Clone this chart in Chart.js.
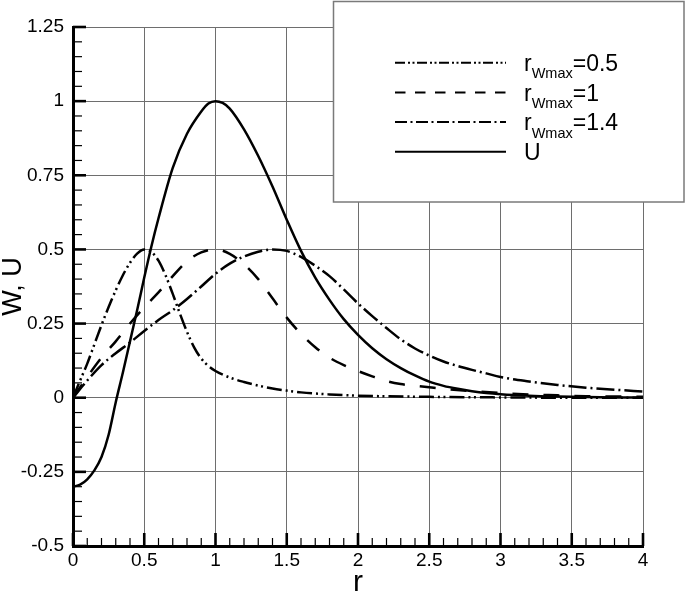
<!DOCTYPE html>
<html><head><meta charset="utf-8">
<script src="https://cdn.jsdelivr.net/npm/chart.js@4/dist/chart.umd.min.js"></script>
<style>html,body{margin:0;padding:0;background:#fff;}#wrap{width:685px;height:598px;position:relative;}</style>
</head><body><div id="wrap"><canvas id="c" width="685" height="598" style="width:685px;height:598px"></canvas></div>
<script>
// ---- data ----
const xTicks = [0, 0.5, 1, 1.5, 2, 2.5, 3, 3.5, 4];
const yTicks = [-0.5, -0.25, 0, 0.25, 0.5, 0.75, 1, 1.25];
const xTitle = 'r';
const yTitle = 'W, U';

const legendBase = ['r', 'r', 'r', 'U'];
const legendSub  = ['Wmax', 'Wmax', 'Wmax', ''];
const legendTail = ['=0.5', '=1', '=1.4', ''];

const rW05 = [0,0.05,0.1,0.15,0.2,0.25,0.3,0.35,0.4,0.45,0.5,0.55,0.6,0.65,0.7,0.75,0.8,0.85,0.9,0.95,1.0,1.1,1.2,1.3,1.4,1.5,1.6,1.8,2.0,2.5,3.0,3.5,4.0];
const W05  = [0,0.058,0.115,0.18,0.245,0.306,0.362,0.413,0.455,0.486,0.5,0.492,0.462,0.412,0.35,0.284,0.222,0.17,0.132,0.107,0.09,0.068,0.053,0.041,0.031,0.024,0.018,0.011,0.007,0.003,0.001,0,0];

const rW1 = [0,0.1,0.2,0.3,0.4,0.5,0.6,0.7,0.8,0.9,1.0,1.1,1.2,1.3,1.4,1.5,1.6,1.7,1.8,1.9,2.0,2.1,2.2,2.3,2.4,2.5,2.6,2.8,3.0,3.2,3.4,3.6,3.8,4.0];
const W1  = [0,0.07,0.135,0.19,0.25,0.305,0.355,0.41,0.46,0.49,0.5,0.485,0.45,0.40,0.335,0.27,0.215,0.17,0.135,0.11,0.09,0.072,0.056,0.046,0.04,0.035,0.03,0.022,0.016,0.011,0.008,0.005,0.004,0.003];

const rW14 = [0,0.1,0.2,0.3,0.4,0.5,0.6,0.7,0.8,0.9,1.0,1.1,1.2,1.3,1.4,1.5,1.6,1.7,1.8,1.9,2.0,2.1,2.2,2.3,2.4,2.5,2.6,2.7,2.8,2.9,3.0,3.2,3.4,3.6,3.8,4.0];
const W14  = [0,0.058,0.11,0.15,0.186,0.225,0.262,0.295,0.333,0.375,0.418,0.452,0.476,0.492,0.5,0.495,0.475,0.445,0.41,0.365,0.318,0.275,0.235,0.197,0.166,0.142,0.122,0.107,0.094,0.082,0.07,0.055,0.043,0.034,0.027,0.021];

const rU = [0,0.05,0.1,0.15,0.2,0.25,0.3,0.35,0.4,0.45,0.5,0.55,0.6,0.7,0.8,0.9,0.95,1.0,1.05,1.1,1.2,1.3,1.4,1.5,1.6,1.7,1.8,1.9,2.0,2.1,2.2,2.3,2.4,2.5,2.6,2.7,2.8,2.9,3.0,3.2,3.4,3.6,3.8,4.0];
const U  = [-0.30,-0.293,-0.275,-0.245,-0.20,-0.125,-0.015,0.085,0.19,0.295,0.405,0.51,0.605,0.775,0.89,0.965,0.992,1.0,0.994,0.975,0.905,0.815,0.712,0.60,0.495,0.405,0.33,0.265,0.212,0.167,0.13,0.10,0.075,0.054,0.04,0.03,0.022,0.016,0.012,0.007,0.004,0.002,0.001,0.0005];

// ---- styles ----
const FONT = "'Liberation Sans', Arial, Helvetica, sans-serif";
Chart.defaults.font.family = FONT;
Chart.defaults.color = '#000';

const plotDash   = [[15,4,2,3.5,2,4],[16,15],[18,4,2,4],[]];
const legendDash = [[10,3,2,2.5,2,2.5],[10.5,9.5],[12,3.5,2,3.5],[]];

function pts(xs, ys){ return xs.map((x,i)=>({x:x, y:ys[i]})); }
const seriesData = [pts(rW05,W05), pts(rW1,W1), pts(rW14,W14), pts(rU,U)];
const seriesLabels = legendBase.map((b,i)=> b + legendSub[i] + legendTail[i]);

const datasets = seriesData.map((d,i)=>({
  label: seriesLabels[i],
  data: d,
  borderColor: '#000',
  borderWidth: 2.5,
  borderDash: plotDash[i],
  borderCapStyle: 'butt',
  pointRadius: 0,
  fill: false,
  cubicInterpolationMode: 'monotone'
}));

function fmt(v){ return String(+Number(v).toFixed(2)); }

const innerTicks = {
  id: 'innerTicks',
  afterDatasetsDraw(chart){
    const {ctx, chartArea:a, scales:{x,y}} = chart;
    ctx.save();
    ctx.strokeStyle = '#000';
    const nx = (xTicks.length-1)*5;
    const dx = (xTicks[xTicks.length-1]-xTicks[0])/nx;
    for(let i=0;i<=nx;i++){
      const major = i%5===0;
      const px = x.getPixelForValue(xTicks[0]+i*dx);
      ctx.lineWidth = major?2.6:1.2;
      ctx.beginPath(); ctx.moveTo(px, a.bottom); ctx.lineTo(px, a.bottom-(major?13:8)); ctx.stroke();
    }
    const ny = (yTicks.length-1)*5;
    const dy = (yTicks[yTicks.length-1]-yTicks[0])/ny;
    for(let i=0;i<=ny;i++){
      const major = i%5===0;
      const py = y.getPixelForValue(yTicks[0]+i*dy);
      ctx.lineWidth = major?2.6:1.2;
      ctx.beginPath(); ctx.moveTo(a.left, py); ctx.lineTo(a.left+(major?13:9), py); ctx.stroke();
    }
    ctx.restore();
  }
};

const boxLegend = {
  id: 'boxLegend',
  afterDraw(chart){
    const ctx = chart.ctx;
    ctx.save();
    ctx.fillStyle = '#fff';
    ctx.fillRect(333.5, 1.5, 350.5, 200.5);
    ctx.strokeStyle = '#7a7a7a';
    ctx.lineWidth = 1.5;
    ctx.strokeRect(333.5, 1.5, 350.5, 200.5);
    for(let i=0;i<legendBase.length;i++){
      const ly = 62.7 + i*29.7;
      ctx.strokeStyle = '#000';
      ctx.lineWidth = 2;
      ctx.lineCap = 'butt';
      ctx.setLineDash(legendDash[i]);
      ctx.beginPath(); ctx.moveTo(395, ly); ctx.lineTo(506, ly); ctx.stroke();
      ctx.setLineDash([]);
      ctx.fillStyle = '#000';
      ctx.textBaseline = 'alphabetic';
      ctx.textAlign = 'left';
      let tx = 524;
      const base = ly + 8.2;
      ctx.font = '23px ' + FONT;
      ctx.fillText(legendBase[i], tx, base);
      tx += ctx.measureText(legendBase[i]).width;
      if(legendSub[i]){
        ctx.font = '14.5px ' + FONT;
        ctx.fillText(legendSub[i], tx, base + 7.5);
        tx += ctx.measureText(legendSub[i]).width;
      }
      if(legendTail[i]){
        ctx.font = '23px ' + FONT;
        ctx.fillText(legendTail[i], tx, base);
      }
    }
    ctx.restore();
  }
};

new Chart(document.getElementById('c'), {
  type: 'line',
  data: { datasets },
  options: {
    responsive: false,
    devicePixelRatio: 1,
    animation: false,
    layout: { padding: { left: 0, right: 42, top: 27, bottom: 0 } },
    plugins: { legend: { display: false }, tooltip: { enabled: false } },
    scales: {
      x: {
        type: 'linear', min: xTicks[0], max: xTicks[xTicks.length-1],
        afterBuildTicks: s => { s.ticks = xTicks.map(v=>({value:v})); },
        afterFit: s => { s.height = 52; },
        ticks: { callback: fmt, font: { size: 19 }, color: '#000', padding: 3, maxRotation: 0, autoSkip: false },
        grid: { color: '#6e6e6e', lineWidth: 1, drawTicks: false },
        border: { display: true, color: '#000', width: 3 },
        title: { display: true, text: xTitle, color: '#000', font: { size: 30, lineHeight: 1 }, padding: 0 }
      },
      y: {
        type: 'linear', min: yTicks[0], max: yTicks[yTicks.length-1],
        afterBuildTicks: s => { s.ticks = yTicks.map(v=>({value:v})); },
        afterFit: s => { s.width = 73; },
        ticks: { callback: fmt, font: { size: 19 }, color: '#000', padding: 9, autoSkip: false },
        grid: { color: '#6e6e6e', lineWidth: 1, drawTicks: false },
        border: { display: true, color: '#000', width: 3 },
        title: { display: true, text: yTitle, color: '#000', font: { size: 27, lineHeight: 1 }, padding: 0 }
      }
    }
  },
  plugins: [innerTicks, boxLegend]
});
</script>
</body></html>
